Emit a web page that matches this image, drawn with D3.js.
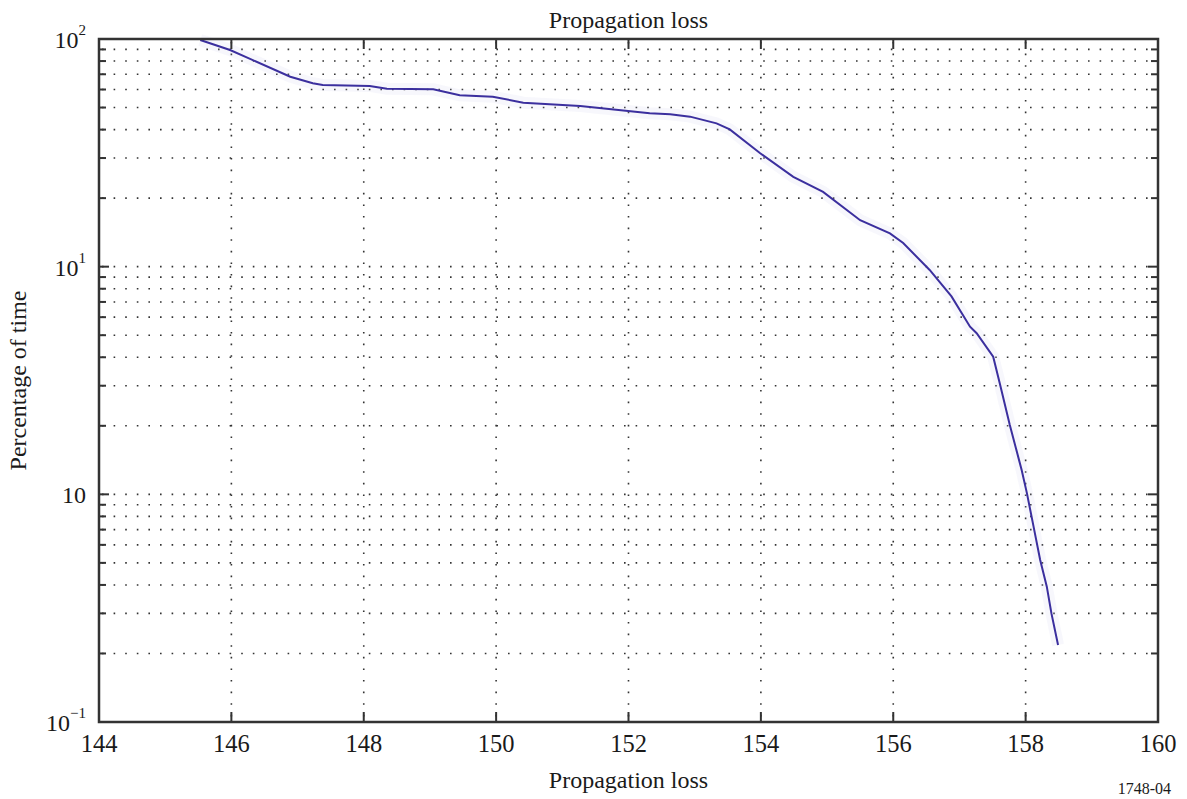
<!DOCTYPE html>
<html><head><meta charset="utf-8">
<script src="https://cdn.jsdelivr.net/npm/d3@7"></script>
<style>body{margin:0;background:#fff}</style>
</head><body><svg id="c" width="1187" height="799" style="font-family:'Liberation Serif','Times New Roman',Times,serif"></svg>
<script>
const lossValues = [145.53,145.98,146.89,147.23,147.38,148.09,148.35,149.05,149.45,149.95,150.41,151.27,152.32,152.63,152.93,153.33,153.53,153.99,154.49,154.94,155.50,155.95,156.15,156.55,156.88,157.16,157.26,157.51,157.61,157.76,157.94,158.02,158.12,158.22,158.32,158.39,158.49];
const percentValues = [99,89.5,68.3,63.9,62.8,62.2,60.5,60.1,56.6,55.8,52.5,50.8,47.2,46.7,45.6,42.6,40.1,31.5,24.8,21.3,16.0,14.0,12.7,9.67,7.4,5.45,5.10,4.02,3.07,2.02,1.28,1.01,0.721,0.515,0.393,0.300,0.218];
const xTickValues = [144,146,148,150,152,154,156,158,160];
const yMajorTicks = [0.1,1,10,100];
const yTickBase = ["10","10","10","10"];
const yTickSup = ["\u22121","","1","2"];
const titleText = "Propagation loss";
const xLabelText = "Propagation loss";
const yLabelText = "Percentage of time";
const figNote = "1748-04";

const svg = d3.select("#c");
const L=99,R=1158,T=39,B=722;
const x = d3.scaleLinear().domain([144,160]).range([L,R]);
const y = d3.scaleLog().domain([0.1,100]).range([B,T]);
const yAll = y.ticks();

const grid = svg.append("g").attr("stroke","#333").attr("stroke-width",1.6).attr("stroke-dasharray","1.6,10").attr("fill","none");
grid.selectAll("line.h").data(yAll.filter(v=>v>0.1&&v<100)).join("line")
  .attr("x1",L+3).attr("x2",R).attr("y1",d=>y(d)).attr("y2",d=>y(d));
grid.selectAll("line.v").data(xTickValues.filter(v=>v>144&&v<160)).join("line")
  .attr("y1",T+3).attr("y2",B).attr("x1",d=>x(d)).attr("x2",d=>x(d));

const line = d3.line().x((d,i)=>x(lossValues[i])).y((d,i)=>y(percentValues[i])).curve(d3.curveLinear);
svg.append("path").datum(lossValues).attr("d",line).attr("fill","none").attr("stroke","#c8c8ee").attr("stroke-opacity",0.15).attr("stroke-width",12);
svg.append("path").datum(lossValues).attr("d",line).attr("fill","none").attr("stroke","#3b2f9e").attr("stroke-width",2);

const tk = svg.append("g").attr("stroke","#333").attr("stroke-width",2);
xTickValues.forEach(v=>{
  tk.append("line").attr("x1",x(v)).attr("x2",x(v)).attr("y1",B).attr("y2",B-10);
  tk.append("line").attr("x1",x(v)).attr("x2",x(v)).attr("y1",T).attr("y2",T+10);
});
yAll.forEach(v=>{
  const len = yMajorTicks.includes(v)?10:7;
  tk.append("line").attr("x1",L).attr("x2",L+len).attr("y1",y(v)).attr("y2",y(v));
  tk.append("line").attr("x1",R).attr("x2",R-len).attr("y1",y(v)).attr("y2",y(v));
});
svg.append("rect").attr("x",L).attr("y",T).attr("width",R-L).attr("height",B-T).attr("fill","none").attr("stroke","#333").attr("stroke-width",2.5);

svg.append("g").attr("fill","#1a1a1a").selectAll("text").data(xTickValues).join("text")
  .attr("x",d=>x(d)).attr("y",B+30).attr("text-anchor","middle").attr("font-size",24.5).text(d=>d);
const yl = svg.append("g").attr("fill","#1a1a1a");
yMajorTicks.forEach((v,i)=>{
  const t = yl.append("text").attr("x",L-13).attr("y",y(v)+9).attr("text-anchor","end").attr("font-size",24);
  t.append("tspan").text(yTickBase[i]);
  if (yTickSup[i]) t.append("tspan").attr("dy",-13).attr("font-size",15).text(yTickSup[i]);
});

svg.append("text").attr("fill","#1a1a1a").attr("x",(L+R)/2).attr("y",28).attr("text-anchor","middle").attr("font-size",24).text(titleText);
svg.append("text").attr("fill","#1a1a1a").attr("x",(L+R)/2).attr("y",788).attr("text-anchor","middle").attr("font-size",24).text(xLabelText);
svg.append("text").attr("fill","#1a1a1a").attr("transform",`translate(26,${(T+B)/2}) rotate(-90)`).attr("text-anchor","middle").attr("font-size",24).text(yLabelText);
svg.append("text").attr("fill","#1a1a1a").attr("x",1171).attr("y",794).attr("text-anchor","end").attr("font-size",16).text(figNote);
</script></body></html>
